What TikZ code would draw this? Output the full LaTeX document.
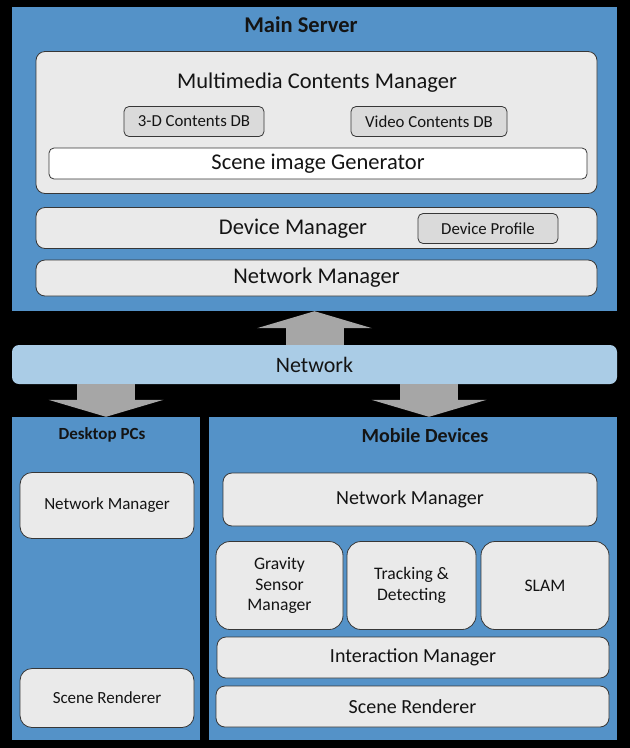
\documentclass[tikz,border=0pt]{standalone}
\usepackage{fontspec}
\setmainfont{Carlito}
\usetikzlibrary{arrows.meta}

\definecolor{panelblue}{RGB}{84,146,200}
\definecolor{boxgray}{RGB}{234,234,234}
\definecolor{dbgray}{RGB}{218,218,218}
\definecolor{netblue}{RGB}{170,204,230}
\definecolor{arrowgray}{RGB}{166,166,166}
\definecolor{edgegray}{RGB}{55,55,55}
\definecolor{inkblack}{RGB}{20,20,20}

\tikzset{
  panel/.style={fill=panelblue, inner sep=0pt},
  layerbox/.style={draw=edgegray, line width=0.8pt, fill=boxgray, rounded corners=9pt,
                   inner sep=0pt, text=inkblack, align=center},
  subbox/.style={layerbox, fill=dbgray, rounded corners=5pt},
  titletext/.style={text=inkblack, font=\bfseries},
  blockarrow/.style={draw=arrowgray, line width=58pt,
                     -{Triangle[length=17pt,width=115pt,line width=0pt]}}
}

\begin{document}
\begin{tikzpicture}[x=1pt,y=-1pt]

%% canvas
\fill[black] (0,0) rectangle (630,748);
\useasboundingbox (0,0) rectangle (630,748);

%% main server
\node[panel, minimum width=605pt, minimum height=304pt] (server) at (314.5,159) {};
\node[titletext, font=\bfseries\fontsize{22.5}{24}\selectfont] (servertitle) at (301,25) {Main Server};

\node[layerbox, minimum width=561pt, minimum height=142pt] (mcm) at (316.5,122.5) {};
\node[text=inkblack, font=\fontsize{22.5}{24}\selectfont] (mcmtitle) at (317,83) {Multimedia Contents Manager};
\node[subbox, minimum width=140pt, minimum height=30pt, font=\fontsize{16.8}{18}\selectfont] (db3d) at (194,121.5) {3-D Contents DB};
\node[subbox, minimum width=156pt, minimum height=30pt, font=\fontsize{16.8}{18}\selectfont] (dbvideo) at (429,121.5) {Video Contents DB};
\node[layerbox, fill=white, rounded corners=5pt, minimum width=538pt, minimum height=31pt,
      font=\fontsize{22.5}{24}\selectfont] (sceneimg) at (318,163.5) {Scene image Generator};

\node[layerbox, minimum width=561pt, minimum height=41pt] (devmgr) at (316.5,228) {};
\node[text=inkblack, font=\fontsize{22.5}{24}\selectfont] (devmgrtext) at (293,229) {Device Manager};
\node[subbox, minimum width=140pt, minimum height=30pt, font=\fontsize{16.8}{18}\selectfont] (devprof) at (488,228.5) {Device Profile};

\node[layerbox, minimum width=561pt, minimum height=36pt, font=\fontsize{22.5}{24}\selectfont] (srvnet) at (316.5,278) {Network Manager};

%% client panels
\node[panel, minimum width=188pt, minimum height=323pt] (desk) at (106,578.5) {};
\node[panel, minimum width=408pt, minimum height=323pt] (mob) at (413,578.5) {};
\node[titletext, font=\bfseries\fontsize{17}{19}\selectfont] (desktitle) at (102,435) {Desktop PCs};
\node[titletext, font=\bfseries\fontsize{20}{22}\selectfont] (mobtitle) at (425,436) {Mobile Devices};

%% network
\node[layerbox, draw=none, fill=netblue, rounded corners=7pt, minimum width=605pt, minimum height=39pt,
      font=\fontsize{22}{24}\selectfont] (net) at (314.5,364.5) {Network};

%% arrows
\coordinate (mobin) at ([xshift=16pt]mob.north);
\draw[blockarrow] (net.north) -- (server.south);
\draw[blockarrow] (net.south -| desk.north) -- (desk.north);
\draw[blockarrow] (net.south -| mobin) -- (mobin);

%% desktop
\node[layerbox, rounded corners=12pt, minimum width=174pt, minimum height=66pt, font=\fontsize{17}{19}\selectfont] (desknet) at (107,505.5) {Network Manager};
\node[layerbox, rounded corners=12pt, minimum width=174pt, minimum height=59pt, font=\fontsize{17}{19}\selectfont] (deskscene) at (107,698) {Scene Renderer};

%% mobile
\node[layerbox, minimum width=374pt, minimum height=53pt, font=\fontsize{20}{22}\selectfont] (mobnet) at (410,499.5) {Network Manager};
\node[layerbox, rounded corners=14pt, minimum width=127pt, minimum height=88pt, font=\fontsize{17.6}{20.5}\selectfont] (gravity) at (279.5,585.5) {Gravity\\Sensor\\Manager};
\node[layerbox, rounded corners=14pt, minimum width=129pt, minimum height=88pt, font=\fontsize{17.6}{20.5}\selectfont] (tracking) at (411.5,585.5) {Tracking \&\\Detecting};
\node[layerbox, rounded corners=14pt, minimum width=128pt, minimum height=88pt, font=\fontsize{17.6}{20}\selectfont] (slam) at (545,585.5) {SLAM};
\node[layerbox, minimum width=392pt, minimum height=41pt, font=\fontsize{20}{22}\selectfont] (interact) at (413,657.5) {Interaction Manager};
\node[layerbox, minimum width=393pt, minimum height=41pt, font=\fontsize{20}{22}\selectfont] (mobscene) at (412.5,706.5) {Scene Renderer};

\end{tikzpicture}
\end{document}
